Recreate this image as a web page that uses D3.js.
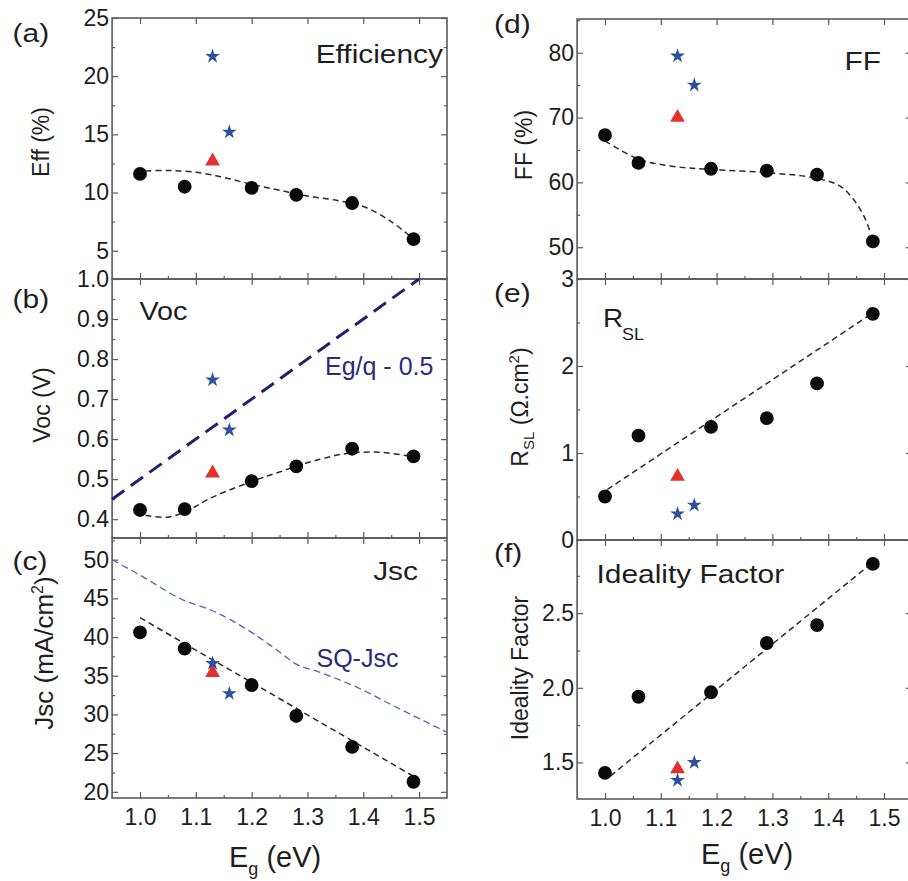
<!DOCTYPE html>
<html>
<head>
<meta charset="utf-8">
<script src="https://cdn.jsdelivr.net/npm/d3@7"></script>
<style>
  body { margin: 0; background: #fff; }
  svg { display: block; font-family: "Liberation Sans", Arial, Helvetica, sans-serif; }
</style>
</head>
<body>
<svg id="chart" width="908" height="881"></svg>
<script>
// ---- Band gaps of the measured devices (left and right columns) ----
const egLeft  = [1.00, 1.08, 1.20, 1.28, 1.38, 1.49];
const egRight = [1.00, 1.06, 1.19, 1.29, 1.38, 1.48];

// ---- Measured device parameters (black circles) ----
const effVals   = [11.6, 10.5, 10.4, 9.8, 9.1, 6.0];
const vocVals   = [0.423, 0.425, 0.495, 0.532, 0.576, 0.557];
const jscVals   = [40.6, 38.5, 33.8, 29.8, 25.8, 21.3];
const ffVals    = [67.3, 63.0, 62.1, 61.8, 61.2, 50.9];
const rslVals   = [0.50, 1.20, 1.30, 1.40, 1.80, 2.60];
const idealVals = [1.43, 1.94, 1.97, 2.30, 2.42, 2.83];

// ---- Reference cells: blue stars and red triangle ----
const starEg    = [1.13, 1.16];
const starEff   = [21.7, 15.2];
const starVoc   = [0.748, 0.623];
const starJsc   = [36.6, 32.7];
const starFF    = [79.5, 75.0];
const starRsl   = [0.30, 0.40];
const starIdeal = [1.38, 1.50];

const triEg    = [1.13];
const triEff   = [12.7];
const triVoc   = [0.515];
const triJsc   = [35.4];
const triFF    = [70.0];
const triRsl   = [0.73];
const triIdeal = [1.456];

// ---- Guide-to-the-eye fits (dashed black) ----
const effFitEg = [1.01, 1.05, 1.10, 1.15, 1.20, 1.25, 1.30, 1.35, 1.40, 1.45, 1.49];
const effFit   = [11.85, 11.9, 11.75, 11.3, 10.7, 10.2, 9.7, 9.35, 8.8, 7.5, 6.0];
const vocFitEg = [1.01, 1.05, 1.08, 1.13, 1.20, 1.25, 1.31, 1.37, 1.43, 1.49];
const vocFit   = [0.409, 0.405, 0.418, 0.455, 0.494, 0.518, 0.545, 0.564, 0.567, 0.556];
const jscFitEg = [1.00, 1.49];
const jscFit   = [42.5, 22.0];
const ffFitEg  = [1.00, 1.06, 1.12, 1.19, 1.29, 1.375, 1.42, 1.446, 1.464, 1.476];
const ffFit    = [66.4, 63.6, 62.5, 62.0, 61.5, 60.7, 59.5, 57.3, 54.8, 52.2];
const rslFitEg = [1.004, 1.473];
const rslFit   = [0.58, 2.58];
const idealFitEg = [1.01, 1.47];
const idealFit   = [1.41, 2.81];

// ---- Limits: Eg/q - 0.5 line and Shockley-Queisser Jsc ----
const limVocEg = [0.95, 1.50];
const limVoc   = [0.45, 1.00];
const sqEg  = [0.95, 1.00, 1.08, 1.13, 1.20, 1.24, 1.28, 1.32, 1.38, 1.46, 1.55];
const sqJsc = [50.0, 48.0, 44.7, 43.4, 40.6, 38.6, 36.5, 35.5, 33.8, 30.9, 27.7];

// ---- Axis ticks ----
const xDomain = [0.95, 1.55];
const xMajor  = [1.0, 1.1, 1.2, 1.3, 1.4, 1.5];
const xMinor  = [1.05, 1.15, 1.25, 1.35, 1.45];

const svg = d3.select("#chart");
const frameColor = "#5a5a5a";
const textColor = "#1e1e1e";
const starColor = "#2d4f9e";
const triColor = "#e3312b";

function styleAxis(g) {
  g.select(".domain").remove();
  g.attr("font-family", null).attr("font-size", 23);
  g.selectAll(".tick line").attr("stroke", frameColor).attr("stroke-width", 1.2);
  g.selectAll(".tick text").attr("fill", textColor);
}

function drawPanel(p) {
  const x = d3.scaleLinear().domain(xDomain).range([p.left, p.right]);
  const y = d3.scaleLinear().domain(p.yDomain).range([p.bottom, p.top]);
  const g = svg.append("g");

  const lab = v => p.yLabels.some(t => Math.abs(t - v) < 1e-9) ? p.fmt(v) : "";

  // left axis: major with labels, minor without
  g.append("g").attr("transform", `translate(${p.left},0)`)
    .call(d3.axisLeft(y).tickValues(p.yMajor).tickSize(-6).tickSizeOuter(0).tickPadding(3).tickFormat(lab))
    .call(styleAxis);
  g.append("g").attr("transform", `translate(${p.left},0)`)
    .call(d3.axisLeft(y).tickValues(p.yMinor).tickSize(-3).tickSizeOuter(0).tickFormat(""))
    .call(styleAxis);
  // right mirror axis
  g.append("g").attr("transform", `translate(${p.right},0)`)
    .call(d3.axisRight(y).tickValues(p.yMajor).tickSize(-6).tickSizeOuter(0).tickFormat(""))
    .call(styleAxis);
  g.append("g").attr("transform", `translate(${p.right},0)`)
    .call(d3.axisRight(y).tickValues(p.yMinor).tickSize(-3).tickSizeOuter(0).tickFormat(""))
    .call(styleAxis);
  // top axis: majors only
  g.append("g").attr("transform", `translate(0,${p.top})`)
    .call(d3.axisTop(x).tickValues(xMajor).tickSize(-6).tickSizeOuter(0).tickFormat(""))
    .call(styleAxis);
  // bottom axis
  g.append("g").attr("transform", `translate(0,${p.bottom})`)
    .call(d3.axisBottom(x).tickValues(xMajor).tickSize(-6).tickSizeOuter(0).tickPadding(11)
      .tickFormat(p.xLabels ? d3.format(".1f") : ""))
    .call(styleAxis);
  g.append("g").attr("transform", `translate(0,${p.bottom})`)
    .call(d3.axisBottom(x).tickValues(xMinor).tickSize(-3).tickSizeOuter(0).tickFormat(""))
    .call(styleAxis);

  // frame
  g.append("rect")
    .attr("x", p.left).attr("y", p.top)
    .attr("width", p.right - p.left).attr("height", p.bottom - p.top)
    .attr("fill", "none").attr("stroke", frameColor).attr("stroke-width", 1.6);

  // extra lines (limits)
  (p.extraLines || []).forEach(l => {
    const line = d3.line().x((d, i) => x(l.xs[i])).y(d => y(d)).curve(l.curve || d3.curveLinear);
    g.append("path").attr("d", line(l.ys))
      .attr("fill", "none").attr("stroke", l.color).attr("stroke-width", l.width)
      .attr("stroke-dasharray", l.dash);
  });

  // fit
  const fitLine = d3.line().x((d, i) => x(p.fitX[i])).y(d => y(d)).curve(p.fitCurve || d3.curveLinear);
  g.append("path").attr("d", fitLine(p.fitY))
    .attr("fill", "none").attr("stroke", "#2a2a2a").attr("stroke-width", 1.5)
    .attr("stroke-dasharray", "6,4");

  // circles
  g.selectAll(null).data(p.vals).join("path")
    .attr("transform", (d, i) => `translate(${x(p.xs[i])},${y(d)})`)
    .attr("d", d3.symbol(d3.symbolCircle, 150)())
    .attr("fill", "#0a0a0a");
  // triangle
  g.selectAll(null).data(p.tri).join("path")
    .attr("transform", (d, i) => `translate(${x(triEg[i])},${y(d)})`)
    .attr("d", d3.symbol(d3.symbolTriangle, 95)())
    .attr("fill", triColor);
  // stars
  g.selectAll(null).data(p.stars).join("path")
    .attr("transform", (d, i) => `translate(${x(starEg[i])},${y(d)})`)
    .attr("d", d3.symbol(d3.symbolStar, 68)())
    .attr("fill", starColor);

  return { x, y, g };
}

const L = { left: 112.1, right: 447 };
const R = { left: 577.1, right: 911.9 };
const f1 = d3.format(".1f");
const f0 = d3.format("d");

drawPanel({ ...L, top: 18, bottom: 279, yDomain: [2.57, 25],
  yMajor: [5, 10, 15, 20, 25], yMinor: [7.5, 12.5, 17.5, 22.5], yLabels: [5, 10, 15, 20, 25], fmt: f0,
  xs: egLeft, vals: effVals, stars: starEff, tri: triEff,
  fitX: effFitEg, fitY: effFit, fitCurve: d3.curveCatmullRom });

drawPanel({ ...L, top: 279, bottom: 538, yDomain: [0.353, 1.0],
  yMajor: [0.4, 0.5, 0.6, 0.7, 0.8, 0.9, 1.0], yMinor: [0.45, 0.55, 0.65, 0.75, 0.85, 0.95],
  yLabels: [0.4, 0.5, 0.6, 0.7, 0.8, 0.9, 1.0], fmt: f1,
  xs: egLeft, vals: vocVals, stars: starVoc, tri: triVoc,
  fitX: vocFitEg, fitY: vocFit, fitCurve: d3.curveCatmullRom,
  extraLines: [{ xs: limVocEg, ys: limVoc, color: "#1f2070", width: 3, dash: "15,8" }] });

drawPanel({ ...L, top: 538, bottom: 798, yDomain: [19.2, 52.8], xLabels: true,
  yMajor: [20, 25, 30, 35, 40, 45, 50], yMinor: [22.5, 27.5, 32.5, 37.5, 42.5, 47.5, 52.5],
  yLabels: [20, 25, 30, 35, 40, 45, 50], fmt: f0,
  xs: egLeft, vals: jscVals, stars: starJsc, tri: triJsc,
  fitX: jscFitEg, fitY: jscFit,
  extraLines: [{ xs: sqEg, ys: sqJsc, color: "#5266ae", width: 1.3, dash: "7,4", curve: d3.curveMonotoneX }] });

drawPanel({ ...R, top: 19, bottom: 279, yDomain: [45.1, 85.2],
  yMajor: [50, 60, 70, 80], yMinor: [55, 65, 75, 85], yLabels: [50, 60, 70, 80], fmt: f0,
  xs: egRight, vals: ffVals, stars: starFF, tri: triFF,
  fitX: ffFitEg, fitY: ffFit, fitCurve: d3.curveCatmullRom });

drawPanel({ ...R, top: 279, bottom: 540, yDomain: [0, 3],
  yMajor: [0, 1, 2, 3], yMinor: [0.5, 1.5, 2.5], yLabels: [0, 1, 2, 3], fmt: f0,
  xs: egRight, vals: rslVals, stars: starRsl, tri: triRsl,
  fitX: rslFitEg, fitY: rslFit });

drawPanel({ ...R, top: 540, bottom: 799, yDomain: [1.255, 2.99], xLabels: true,
  yMajor: [1.5, 2.0, 2.5], yMinor: [1.75, 2.25, 2.75], yLabels: [1.5, 2.0, 2.5], fmt: f1,
  xs: egRight, vals: idealVals, stars: starIdeal, tri: triIdeal,
  fitX: idealFitEg, fitY: idealFit });

// ---- Text: panel letters, titles, axis titles ----
function stretchedText(x, y, str, size, anchor, sx) {
  return svg.append("text")
    .attr("transform", `translate(${x},${y}) scale(${sx},1)`)
    .attr("font-size", size).attr("text-anchor", anchor || "start")
    .attr("fill", textColor).text(str);
}

[["(a)", 12.5, 42], ["(b)", 12.5, 308], ["(c)", 12.5, 570],
 ["(d)", 494, 33], ["(e)", 494, 302], ["(f)", 494, 562]]
  .forEach(([t, x, y]) => stretchedText(x, y, t, 25, "start", 1.2));

stretchedText(443, 63, "Efficiency", 26, "end", 1.15);
stretchedText(139.5, 320, "Voc", 25, "start", 1.15);
stretchedText(418, 580, "Jsc", 26, "end", 1.15);
stretchedText(881, 70, "FF", 26, "end", 1.15);
stretchedText(596.5, 583, "Ideality Factor", 26, "start", 1.15);

// R_SL panel title
const rsl = svg.append("text").attr("transform", "translate(603,327) scale(1.12,1)").attr("fill", textColor);
rsl.append("tspan").attr("font-size", 25).text("R");
rsl.append("tspan").attr("font-size", 16).attr("dy", 13).attr("dx", -1).text("SL");

svg.append("text").attr("x", 325).attr("y", 375).attr("font-size", 25)
  .attr("fill", "#2b2b7c").text("Eg/q - 0.5");
svg.append("text").attr("x", 316.5).attr("y", 667).attr("font-size", 25)
  .attr("fill", "#2b2b7c").text("SQ-Jsc");

// y-axis titles (rotated)
function yTitle(x, y, size) {
  return svg.append("text")
    .attr("transform", `translate(${x},${y}) rotate(-90)`)
    .attr("text-anchor", "middle").attr("font-size", size).attr("fill", textColor);
}
yTitle(49, 142, 23).text("Eff (%)");
yTitle(50, 405, 23).text("Voc (V)");
const jt = yTitle(53, 653, 26);
jt.append("tspan").text("Jsc (mA/cm");
jt.append("tspan").attr("font-size", 16).attr("dy", -10).text("2");
jt.append("tspan").attr("dy", 10).text(")");
yTitle(532, 145, 23).text("FF (%)");
const rt = yTitle(528, 407, 23);
rt.append("tspan").text("R");
rt.append("tspan").attr("font-size", 15).attr("dy", 6).text("SL");
rt.append("tspan").attr("dy", -6).text(" (\u03A9.cm");
rt.append("tspan").attr("font-size", 15).attr("dy", -9).text("2");
rt.append("tspan").attr("dy", 9).text(")");
yTitle(528, 668, 23).text("Ideality Factor");

// x-axis titles
function xTitle(x, y) {
  const t = svg.append("text").attr("x", x).attr("y", y).attr("font-size", 29).attr("fill", textColor);
  t.append("tspan").text("E");
  t.append("tspan").attr("font-size", 18).attr("dy", 8).text("g");
  t.append("tspan").attr("dy", -8).text(" (eV)");
}
xTitle(229, 867);
xTitle(701, 864);
</script>
</body>
</html>
